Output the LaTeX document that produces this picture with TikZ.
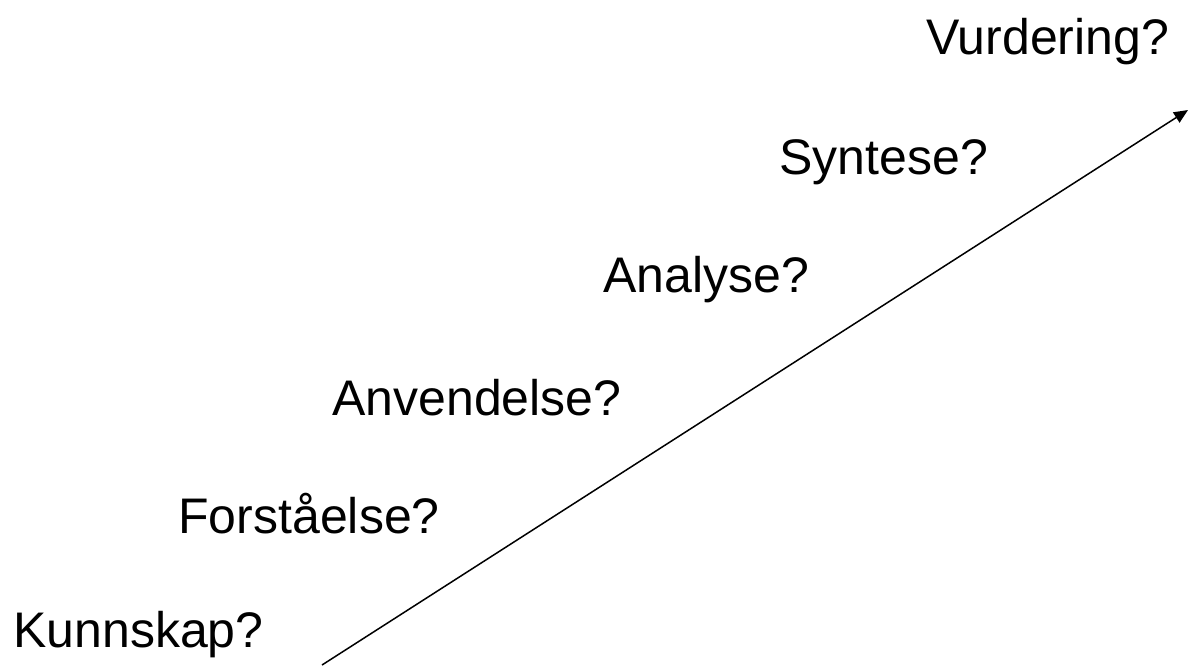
\documentclass[tikz,border=0pt]{standalone}
\usepackage{fontspec}
\setmainfont{Liberation Sans}
\usetikzlibrary{arrows.meta}

\begin{document}
\begin{tikzpicture}[x=0.5pt, y=-0.5pt,
    level/.style={anchor=base west, inner sep=0pt, font=\fontsize{25}{30}\selectfont}]
				% Frame
				\useasboundingbox (0,0) rectangle (1188,665);
				
				% Levels
				\node[level] (kunnskap) at (13,647) {Kunnskap?};
				\node[level] (forstaaelse) at (178,533) {Forståelse?};
				\node[level] (anvendelse) at (332,415) {Anvendelse?};
				\node[level] (analyse) at (603,292) {Analyse?};
				\node[level] (syntese) at (779,174) {Syntese?};
				\node[level] (vurdering) at (926,54) {Vurdering?};
				
				% Arrow
				\coordinate (start) at (322,665);
				\coordinate (end) at (1188,110);
				\draw[line width=0.75pt, -{Triangle[length=7pt, width=6pt]}] (start) -- (end);
			\end{tikzpicture}
\end{document}
